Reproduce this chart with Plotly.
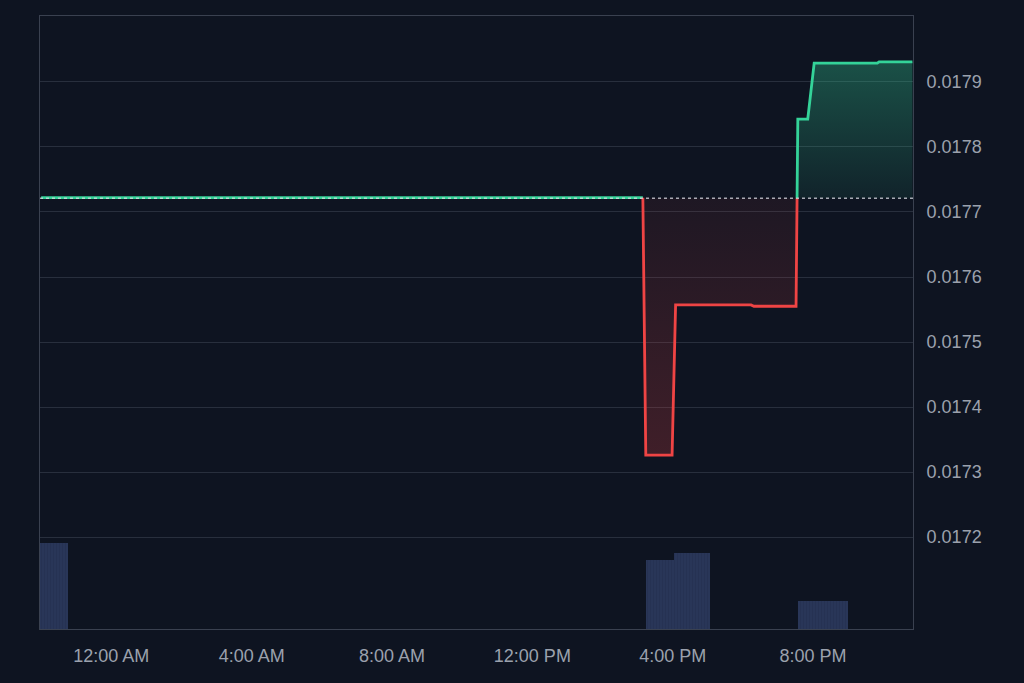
import plotly.graph_objects as go
from datetime import datetime

# ---- data ----
price_times = ["2023-12-31 22:00", "2024-01-01 15:09", "2024-01-01 15:14", "2024-01-01 15:59",
               "2024-01-01 16:05", "2024-01-01 18:14", "2024-01-01 18:19", "2024-01-01 19:31",
               "2024-01-01 19:34", "2024-01-01 19:51", "2024-01-01 20:02", "2024-01-01 21:50",
               "2024-01-01 21:53", "2024-01-01 22:50"]
price_values = [0.017722, 0.017722, 0.017326, 0.017326,
                0.017557, 0.017557, 0.017555, 0.017555,
                0.017843, 0.017843, 0.017929, 0.017929,
                0.017931, 0.017931]
baseline_price = 0.017721

vol_start = ["2023-12-31 21:58", "2024-01-01 15:14", "2024-01-01 16:02", "2024-01-01 19:34"]
vol_end = ["2023-12-31 22:46", "2024-01-01 16:02", "2024-01-01 17:04", "2024-01-01 20:59"]
vol_values = [1.40, 1.12, 1.24, 0.45]

tick_times = ["2024-01-01 00:00", "2024-01-01 04:00", "2024-01-01 08:00",
              "2024-01-01 12:00", "2024-01-01 16:00", "2024-01-01 20:00"]
tick_labels = ["12:00 AM", "4:00 AM", "8:00 AM", "12:00 PM", "4:00 PM", "8:00 PM"]

y_ticks = [0.0172, 0.0173, 0.0174, 0.0175, 0.0176, 0.0177, 0.0178, 0.0179]

# ---- helpers ----
fmt = "%Y-%m-%d %H:%M"
pt = [datetime.strptime(t, fmt) for t in price_times]

# split the series at baseline crossings
segments = []  # (times, values, above)
cur_t, cur_v = [pt[0]], [price_values[0]]
cur_above = price_values[0] >= baseline_price
for i in range(1, len(pt)):
    v0, v1 = price_values[i - 1], price_values[i]
    above = v1 >= baseline_price
    if above != cur_above:
        if v0 >= baseline_price and v0 - baseline_price < 5e-6:
            tc = pt[i - 1]
            cv = v0
        else:
            frac = (baseline_price - v0) / (v1 - v0)
            tc = pt[i - 1] + (pt[i] - pt[i - 1]) * frac
            cv = baseline_price
            cur_t.append(tc); cur_v.append(cv)
        segments.append((cur_t, cur_v, cur_above))
        cur_t, cur_v = [tc], [cv]
        cur_above = above
    cur_t.append(pt[i]); cur_v.append(v1)
segments.append((cur_t, cur_v, cur_above))

GREEN = "#34d399"
RED = "#ef4444"
BG = "#0e1421"
GRID = "#282f3d"
TXT = "#9ba1ad"

fig = go.Figure()

# volume bars
vs = [datetime.strptime(t, fmt) for t in vol_start]
ve = [datetime.strptime(t, fmt) for t in vol_end]
fig.add_trace(go.Bar(
    x=[a + (b - a) / 2 for a, b in zip(vs, ve)],
    y=vol_values,
    width=[(b - a).total_seconds() * 1000 for a, b in zip(vs, ve)],
    marker=dict(color="#293658", line=dict(width=0),
                pattern=dict(shape="|", fgcolor="#202b49", size=3, solidity=0.25)),
    yaxis="y2", hoverinfo="skip", showlegend=False,
))

for times, vals, above in segments:
    color = GREEN if above else RED
    fig.add_trace(go.Scatter(
        x=times, y=[baseline_price] * len(times), mode="lines",
        line=dict(width=0), hoverinfo="skip", showlegend=False,
    ))
    if above:
        grad = dict(type="vertical", start=baseline_price, stop=max(vals),
                    colorscale=[[0, "rgba(52,211,153,0.08)"], [1, "rgba(52,211,153,0.32)"]])
    else:
        grad = dict(type="vertical", start=baseline_price, stop=min(vals),
                    colorscale=[[0, "rgba(239,68,68,0.07)"], [1, "rgba(239,68,68,0.22)"]])
    fig.add_trace(go.Scatter(
        x=times, y=vals, mode="lines", line=dict(color=color, width=2.8),
        fill="tonexty", fillgradient=grad, showlegend=False,
    ))

x_start = datetime.strptime("2023-12-31 21:58", fmt)
x_end = datetime.strptime("2024-01-01 22:51", fmt)

fig.add_shape(type="line", xref="paper", x0=0, x1=1, yref="y",
              y0=baseline_price, y1=baseline_price,
              line=dict(color="rgba(220,220,230,0.75)", width=1.5, dash="dot"))

fig.update_layout(
    width=1024, height=683,
    margin=dict(l=40, r=111, t=16, b=54),
    paper_bgcolor=BG, plot_bgcolor=BG,
    font=dict(family="Liberation Sans, Arial, sans-serif", size=18, color=TXT),
    bargap=0,
    xaxis=dict(
        type="date", range=[x_start, x_end],
        tickvals=[datetime.strptime(t, fmt) for t in tick_times], ticktext=tick_labels,
        showgrid=False, zeroline=False, showline=True, linecolor="#3a4150", linewidth=1,
        mirror=True, ticks="", ticklabelstandoff=10,
        tickfont=dict(size=18, color=TXT),
    ),
    yaxis=dict(
        side="right", range=[0.0170585, 0.0180015],
        tickvals=y_ticks, tickformat=".4f",
        showgrid=True, gridcolor=GRID, gridwidth=1, zeroline=False,
        showline=True, linecolor="#3a4150", linewidth=1, mirror=True,
        ticks="", ticklabelstandoff=9, tickfont=dict(size=18, color=TXT),
    ),
    yaxis2=dict(overlaying="y", range=[0, 10], visible=False, showgrid=False),
)

fig.write_html("out.html", config={"displayModeBar": False},
               post_script="document.body.style.margin='0';document.body.style.background='#0e1421';")
